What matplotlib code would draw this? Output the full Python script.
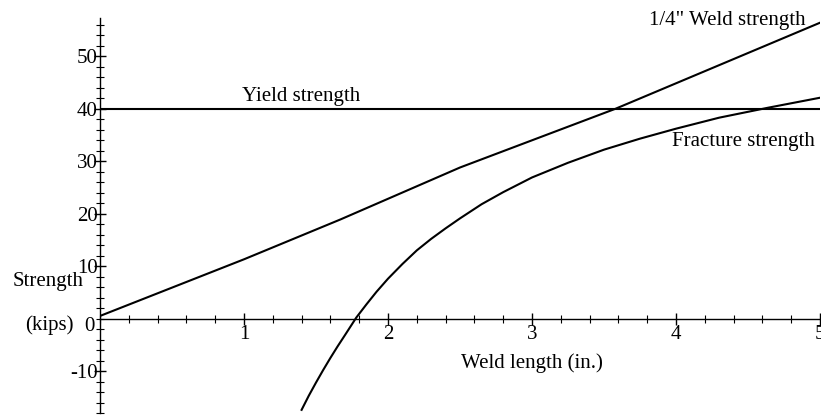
import numpy as np
import matplotlib.pyplot as plt
from matplotlib.ticker import MultipleLocator

plt.rcParams['font.family'] = ['Liberation Serif', 'DejaVu Serif']
plt.rcParams['axes.unicode_minus'] = False

# weld length (in.) and strengths (kips)
weld_len = [0.0, 1.0, 1.67, 2.5, 3.58, 5.0]
weld_str = [0.5, 11.3, 18.9, 28.8, 40.0, 56.4]

yield_len = [0.0, 5.0]
yield_str = [40.0, 40.0]

frac_len = [1.40, 1.45, 1.5, 1.55, 1.6, 1.65, 1.7, 1.78, 1.85, 1.92, 2.0, 2.1,
            2.2, 2.3, 2.4, 2.5, 2.65, 2.8, 3.0, 3.25, 3.5, 3.75, 4.0, 4.3,
            4.64, 5.0]
frac_str = [-17.4, -14.7, -12.2, -9.8, -7.5, -5.3, -3.2, 0.2, 2.7, 5.1, 7.6, 10.4,
            13.0, 15.2, 17.2, 19.1, 21.8, 24.1, 26.9, 29.7, 32.2, 34.3, 36.2, 38.3,
            40.2, 42.1]

xticks = [1, 2, 3, 4, 5]
yticks = [-10, 10, 20, 30, 40, 50]

fs = 15

fig = plt.figure(figsize=(8.21, 4.16), dpi=100)
ax = fig.add_axes([100 / 821, 3 / 416, 720 / 821, 395 / 416])

lw = 1.5
ax.plot(weld_len, weld_str, color='black', lw=lw)
ax.plot(yield_len, yield_str, color='black', lw=lw)
ax.plot(frac_len, frac_str, color='black', lw=lw)

ax.set_xlim(0, 5)
ax.set_ylim(-18.0, 57.3)

for s in ['top', 'right']:
    ax.spines[s].set_visible(False)
ax.spines['bottom'].set_position(('data', 0))
ax.spines['left'].set_position(('data', 0))
for s in ['bottom', 'left']:
    ax.spines[s].set_linewidth(1.0)

ax.set_xticks(xticks)
ax.set_yticks(yticks)
ax.xaxis.set_minor_locator(MultipleLocator(0.2))
ax.yaxis.set_minor_locator(MultipleLocator(2))
ax.tick_params(which='major', direction='inout', length=9, width=1.0,
               labelsize=fs, pad=0)
ax.tick_params(which='minor', direction='inout', length=6, width=0.8)
ax.tick_params(axis='y', pad=-3)

# origin label sits a little below the axis
ax.text(-0.035, -1.6, '0', ha='right', va='center', fontsize=fs)

# curve labels
ax.text(1.40, 40.6, 'Yield strength', ha='center', va='bottom', fontsize=fs)
ax.text(3.81, 56.9, '1/4" Weld strength', ha='left', va='center', fontsize=fs)
ax.text(3.97, 33.7, 'Fracture strength', ha='left', va='center', fontsize=fs)

# axis titles
ax.text(-0.61, 7.0, 'Strength', ha='left', va='center', fontsize=fs, clip_on=False)
ax.text(-0.52, -1.3, '(kips)', ha='left', va='center', fontsize=fs, clip_on=False)
ax.text(2.51, -8.4, 'Weld length (in.)', ha='left', va='center', fontsize=fs)

fig.savefig('out.png', dpi=100)
